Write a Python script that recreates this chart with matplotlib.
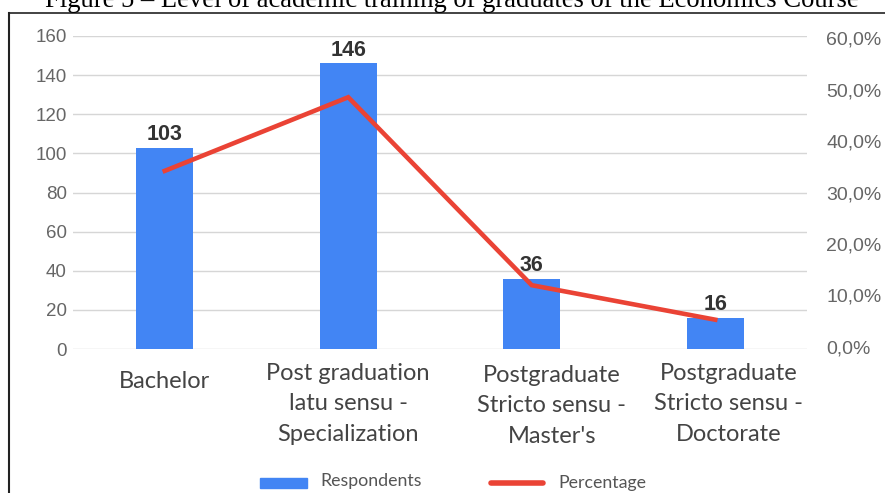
import matplotlib
matplotlib.use("Agg")
import matplotlib.pyplot as plt
import matplotlib.transforms as mtransforms
from matplotlib.lines import Line2D
from matplotlib.patches import Rectangle
from matplotlib.ticker import FuncFormatter, MultipleLocator

# data
categories = [
    "Bachelor",
    "Post graduation\nlatu sensu -\nSpecialization",
    "Postgraduate\nStricto sensu -\nMaster's",
    "Postgraduate\nStricto sensu -\nDoctorate",
]
respondents = [103, 146, 36, 16]
percentage = [34.2, 48.5, 12.0, 5.3]

BLUE = "#4285F4"
RED = "#EA4335"
TICK_GREY = "#666666"

fig = plt.figure(figsize=(8.85, 4.93), dpi=100)
ax = fig.add_axes([73 / 885, 1 - 349 / 493, 734 / 885, 313 / 493])

x = list(range(len(categories)))
bars = ax.bar(x, respondents, width=0.31, color=BLUE, zorder=2)
ax.set_xlim(-0.5, len(categories) - 0.5)
ax.set_ylim(0, 160)
ax.yaxis.set_major_locator(MultipleLocator(20))
ax.grid(True, axis="y", color="#d6d6d6", linewidth=1.0, zorder=0)
ax.set_axisbelow(True)
for s in ax.spines.values():
    s.set_visible(False)
ax.tick_params(axis="y", length=0, pad=4.5, labelsize=13.5, labelcolor=TICK_GREY)
ax.tick_params(axis="x", length=0, pad=10)
for lab in ax.get_yticklabels():
    lab.set_fontfamily("Liberation Sans")

ax.set_xticks(x)
ax.set_xticklabels(categories, fontsize=17, color="#444444", family="Lato",
                   linespacing=1.55)
# small offsets of the category labels as they sit in the original (pixels)
shifts = [(0, -8), (0, 0), (20, -2), (13, 0)]
for lab, (dx, dy) in zip(ax.get_xticklabels(), shifts):
    lab.set_transform(lab.get_transform()
                      + mtransforms.ScaledTranslation(dx / 100, dy / 100, fig.dpi_scale_trans))

ax.bar_label(bars, labels=[str(v) for v in respondents], padding=2,
             fontsize=15.5, fontweight="bold", color="#333333",
             family="Liberation Sans")

ax2 = ax.twinx()
ax2.plot(x, percentage, color=RED, linewidth=3.3, solid_joinstyle="miter", zorder=3)
ax2.set_ylim(-0.39, 60.39)
ax2.set_yticks([0, 10, 20, 30, 40, 50, 60])
ax2.yaxis.set_major_formatter(FuncFormatter(lambda v, p: f"{v:.1f}%".replace(".", ",")))
ax2.tick_params(axis="y", length=0, pad=14, labelsize=14, labelcolor=TICK_GREY)
for lab in ax2.get_yticklabels():
    lab.set_fontfamily("Liberation Sans")
for s in ax2.spines.values():
    s.set_visible(False)

# legend drawn in figure pixels
fig.patches.append(Rectangle((260 / 885, 1 - 488 / 493), 47 / 885, 10 / 493,
                             transform=fig.transFigure, color=BLUE))
fig.text(320 / 885, 1 - 481 / 493, "Respondents", fontsize=12.8, color="#555555",
         family="Lato", va="center")
fig.lines.append(Line2D([491 / 885, 543 / 885], [1 - 483 / 493] * 2,
                        transform=fig.transFigure, color=RED, linewidth=4,
                        solid_capstyle="round"))
fig.text(558 / 885, 1 - 483 / 493, "Percentage", fontsize=12.8, color="#555555",
         family="Lato", va="center")

# frame of the cropped figure box and the clipped caption
fig.lines.append(Line2D([9 / 885, 1], [1 - 13 / 493] * 2, transform=fig.transFigure,
                        color="#222222", linewidth=1.2))
fig.lines.append(Line2D([9 / 885, 9 / 885], [0, 1 - 13 / 493], transform=fig.transFigure,
                        color="#222222", linewidth=1.5))
fig.text(452 / 885, 1 - 7 / 493,
         "Figure 5 \u2013 Level of academic training of graduates of the Economics Course",
         ha="center", va="baseline", fontsize=19.2, family="Liberation Serif", color="black")

fig.savefig("out.png", dpi=100)
